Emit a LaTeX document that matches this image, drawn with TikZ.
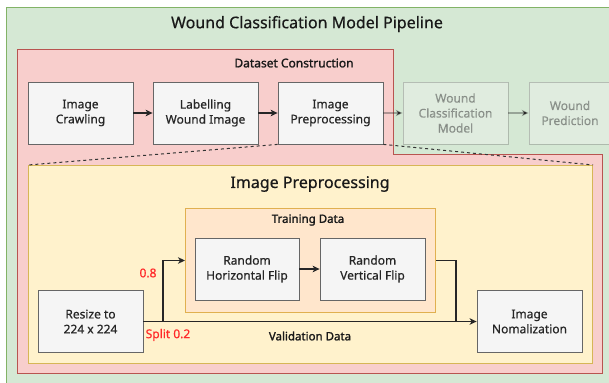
\documentclass[tikz,border=0pt]{standalone}
\usepackage{fontspec}
\setmainfont{Noto Sans}[RawFeature={embolden=0.6}]
\newfontfamily\heavyfont{Noto Sans}[RawFeature={embolden=1.6}]
\usepackage{xcolor}
\usetikzlibrary{arrows.meta}

\definecolor{pipefill}{HTML}{D5E8D4}
\definecolor{pipeline}{HTML}{82B366}
\definecolor{datafill}{HTML}{F8CECC}
\definecolor{dataline}{HTML}{B85450}
\definecolor{prepfill}{HTML}{FFF2CC}
\definecolor{prepline}{HTML}{D6B656}
\definecolor{trainfill}{HTML}{FFE6CC}
\definecolor{trainline}{HTML}{E0B050}
\definecolor{boxfill}{HTML}{F5F5F5}
\definecolor{boxline}{HTML}{666666}
\definecolor{splitred}{HTML}{FF2A2A}

\begin{document}
\begin{tikzpicture}[x=1pt, y=-1pt,
    box/.style={draw=boxline, fill=boxfill, line width=0.8pt, minimum width=105pt,
        minimum height=62pt, inner sep=0pt, align=center,
        font=\fontsize{12}{15}\selectfont, text=black!85},
    faded/.style={box, fill opacity=0.35, draw opacity=0.35, text opacity=0.4},
    flow/.style={-{Stealth[length=7pt,width=6.5pt,inset=2pt]}, line width=1.3pt, black!85},
    fadedflow/.style={flow, draw opacity=0.35},
    zoomline/.style={line width=1pt, dash pattern=on 3pt off 3pt, black!80},
    title/.style={font=\fontsize{#1}{#1}\selectfont, text=black!90, inner sep=0pt},
    heading/.style={font=\heavyfont\fontsize{#1}{#1}\selectfont, text=black!90, inner sep=0pt}]
    \useasboundingbox (0,0) rectangle (609,382);
    \clip (0,0) rectangle (609,382);

    % outer pipeline frame
    \draw [draw=pipeline, fill=pipefill, line width=1pt] (6,8) rectangle (640,400);
    \node [title=16] (pipetitle) at (307,24) {Wound Classification Model Pipeline};

    % dataset construction, stepped outline
    \draw [draw=dataline, fill=datafill, line width=1pt]
        (17,50) -- (393,50) -- (393,154) -- (602,154) -- (602,373) -- (17,373) -- cycle;
    \node [heading=12] (datatitle) at (294,63) {Dataset Construction};

    \node [box] (crawl) at (80.5,113) {Image\\Crawling};
    \node [box] (label) at (205.5,113) {Labelling\\Wound Image};
    \node [box] (preproc) at (330.5,113) {Image\\Preprocessing};
    \node [faded] (model) at (455.5,113) {Wound\\Classification\\Model};
    \node [faded, minimum width=82pt] (predict) at (570,113) {Wound\\Prediction};

    \draw [flow] (crawl) -- (label);
    \draw [flow] (label) -- (preproc);
    \draw [fadedflow] (preproc) -- (model);
    \draw [fadedflow] (model) -- (predict);

    % preprocessing detail
    \node [draw=prepline, fill=prepfill, line width=1pt, minimum width=564pt, minimum height=198pt,
        anchor=north west, inner sep=0pt] (prepbox) at (28,165) {};
    \draw [zoomline] (preproc.south west) -- (prepbox.north west);
    \draw [zoomline] (preproc.south east) -- (prepbox.north east);
    \node [title=16] (preptitle) at (310,184) {Image Preprocessing};

    \node [draw=trainline, fill=trainfill, line width=1pt, minimum width=250pt, minimum height=104pt,
        anchor=north west, inner sep=0pt] (train) at (185,208) {};
    \node [heading=11.5] (traintitle) at (308,220) {Training Data};

    \node [box, minimum width=104pt] (hflip) at (247,269) {Random\\Horizontal Flip};
    \node [box] (vflip) at (372.5,269) {Random\\Vertical Flip};
    \draw [flow] (hflip) -- (vflip);

    \node [box] (resize) at (90.5,321.5) {Resize to\\224 x 224};
    \node [box] (norm) at (529.5,321.5) {Image\\Nomalization};

    \coordinate (split) at (163,321.5);
    \coordinate (merge) at (456,321.5);
    \draw [flow] (resize) -- (norm);
    \draw [flow] (split) |- (train.west);
    \draw [line width=1.3pt, black!85] (train.east) -| (merge);

    \node [title=12, text=splitred] (ratiotrain) at (148,273) {0.8};
    \node [title=12, text=splitred] (ratioval) at (168,335) {Split 0.2};
    \node [heading=11.5] (valtitle) at (310,336) {Validation Data};
\end{tikzpicture}
\end{document}
